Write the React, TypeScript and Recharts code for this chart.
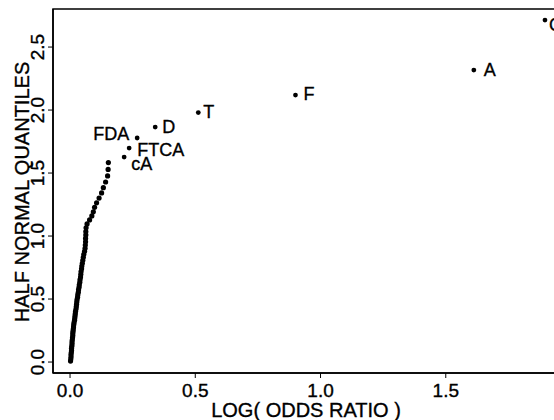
import React from 'react';
import { ScatterChart, Scatter, XAxis, YAxis, ReferenceArea } from 'recharts';

// unlabelled effects (the dense cloud near zero)
const cloudX = [
  0.002, 0.003, 0.004, 0.004, 0.005, 0.006, 0.006, 0.007, 0.008, 0.008,
  0.009, 0.010, 0.011, 0.011, 0.012, 0.013, 0.014, 0.015, 0.016, 0.018,
  0.019, 0.020, 0.021, 0.022, 0.024, 0.025, 0.026, 0.027, 0.028, 0.030,
  0.031, 0.033, 0.034, 0.036, 0.037, 0.039, 0.040, 0.042, 0.043, 0.044,
  0.046, 0.047, 0.049, 0.051, 0.053, 0.055, 0.058, 0.060, 0.061, 0.062,
  0.062, 0.063, 0.063, 0.064, 0.068, 0.078, 0.087, 0.093, 0.098, 0.106,
  0.116, 0.126, 0.133, 0.142, 0.150, 0.152, 0.153,
];
const cloudY = [
  0.008, 0.025, 0.042, 0.059, 0.075, 0.092, 0.109, 0.126, 0.143, 0.160,
  0.176, 0.194, 0.210, 0.228, 0.245, 0.262, 0.279, 0.297, 0.314, 0.332,
  0.350, 0.368, 0.385, 0.404, 0.422, 0.440, 0.459, 0.478, 0.496, 0.515,
  0.535, 0.553, 0.574, 0.594, 0.613, 0.634, 0.655, 0.675, 0.696, 0.718,
  0.740, 0.762, 0.784, 0.807, 0.831, 0.855, 0.879, 0.903, 0.929, 0.954,
  0.981, 1.009, 1.036, 1.065, 1.096, 1.128, 1.160, 1.192, 1.228, 1.264,
  1.301, 1.342, 1.384, 1.429, 1.477, 1.529, 1.583,
];

// labelled effects
const labelNames = ['cA', 'FTCA', 'FDA', 'D', 'T', 'F', 'A', 'C'];
const labelX = [0.216, 0.236, 0.268, 0.34, 0.512, 0.9, 1.612, 1.896];
const labelY = [1.627, 1.698, 1.778, 1.865, 1.98, 2.119, 2.317, 2.714];

const xTicks = [0, 0.5, 1.0, 1.5];
const yTicks = [0, 0.5, 1.0, 1.5, 2.0, 2.5];

const X_DOMAIN: [number, number] = [-0.068, 1.956];
const Y_DOMAIN: [number, number] = [-0.087, 2.802];

const FONT = '"Liberation Sans", Arial, Helvetica, sans-serif';
// scanned print looks a touch heavier than plain text
const ink = { fill: '#000', stroke: '#000', strokeWidth: 0.35 };

// where each name sits relative to its point
const labelPos: Record<string, { dx: number; dy: number; anchor: 'start' | 'end' }> = {
  cA: { dx: 7, dy: 13, anchor: 'start' },
  FTCA: { dx: 8, dy: 8, anchor: 'start' },
  FDA: { dx: -8, dy: 2, anchor: 'end' },
  D: { dx: 7, dy: 6, anchor: 'start' },
  T: { dx: 5, dy: 5, anchor: 'start' },
  F: { dx: 8, dy: 5, anchor: 'start' },
  A: { dx: 10, dy: 6, anchor: 'start' },
  C: { dx: 4, dy: 11, anchor: 'start' },
};

const cloudData = cloudX.map((x, i) => ({ x, y: cloudY[i] }));
const labelData = labelNames.map((name, i) => ({ name, x: labelX[i], y: labelY[i] }));

const Dot = (props: any) => <circle cx={props.cx} cy={props.cy} r={2.6} fill="#000" />;

const NamedDot = (props: any) => {
  const pos = labelPos[props.payload.name];
  return (
    <g>
      <circle cx={props.cx} cy={props.cy} r={2.4} fill="#000" />
      <text x={props.cx + pos.dx} y={props.cy + pos.dy} textAnchor={pos.anchor}
        fontSize={18} fontFamily={FONT} {...ink}>{props.payload.name}</text>
    </g>
  );
};

const YTick = (props: any) => {
  const { x, y, payload } = props;
  return (
    <text x={x + 1} y={y} transform={`rotate(-90, ${x + 1}, ${y})`} textAnchor="middle"
      fontSize={19} fontFamily={FONT} {...ink}>{payload.value.toFixed(1)}</text>
  );
};

const XTick = (props: any) => {
  const { x, y, payload } = props;
  return (
    <text x={x} y={y + 14} textAnchor="middle" fontSize={19} fontFamily={FONT} {...ink}>
      {payload.value.toFixed(1)}
    </text>
  );
};

export default function App() {
  return (
    <div style={{ position: 'fixed', left: 0, top: 0, width: 554, height: 420, overflow: 'hidden', background: '#fff' }}>
      <ScatterChart width={600} height={420} margin={{ top: 9, right: 40, bottom: 0, left: 0 }}>
        <XAxis type="number" dataKey="x" domain={X_DOMAIN} allowDataOverflow ticks={xTicks}
          height={47} tickSize={5} tickMargin={5} tick={<XTick />}
          axisLine={{ stroke: '#000', strokeWidth: 1.5 }} tickLine={{ stroke: '#000' }}
          label={{
            content: () => (
              <text x={306} y={417} textAnchor="middle" fontSize={20} fontFamily={FONT} {...ink}>
                LOG( ODDS RATIO )
              </text>
            ),
          }} />
        <YAxis type="number" dataKey="y" domain={Y_DOMAIN} allowDataOverflow ticks={yTicks}
          width={53} tickSize={5} tickMargin={5} tick={<YTick />}
          axisLine={{ stroke: '#000', strokeWidth: 1.5 }} tickLine={{ stroke: '#000' }}
          label={{
            content: () => (
              <text x={29} y={192} transform="rotate(-90, 29, 192)" textAnchor="middle"
                fontSize={20} fontFamily={FONT} {...ink}>HALF NORMAL QUANTILES</text>
            ),
          }} />
        <ReferenceArea x1={X_DOMAIN[0]} x2={X_DOMAIN[1]} y1={Y_DOMAIN[0]} y2={Y_DOMAIN[1]}
          fill="none" fillOpacity={0} stroke="#000" strokeWidth={1.5} />
        <Scatter data={cloudData} shape={<Dot />} isAnimationActive={false} />
        <Scatter data={labelData} shape={<NamedDot />} isAnimationActive={false} />
      </ScatterChart>
    </div>
  );
}
